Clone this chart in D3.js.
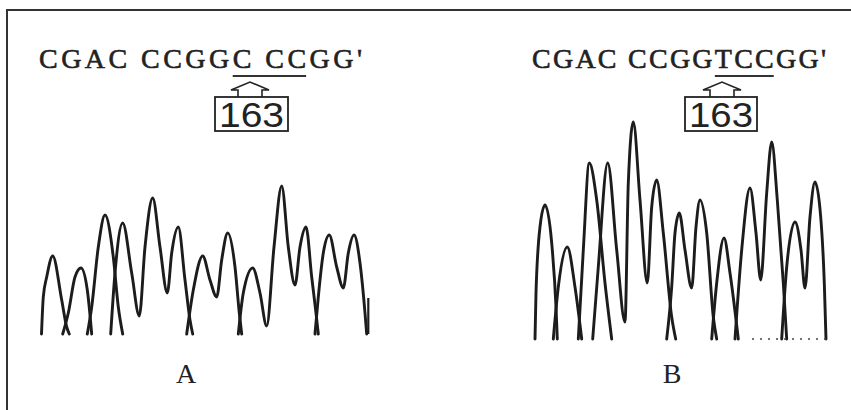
<!DOCTYPE html>
<html>
<head>
<meta charset="utf-8">
<script src="https://cdn.jsdelivr.net/npm/d3@7/dist/d3.min.js"></script>
<style>
  html, body { margin: 0; padding: 0; background: #fff; }
  svg { display: block; }
</style>
</head>
<body>
<svg id="chart" width="851" height="410"></svg>
<script>
// ---------------- DATA ----------------
// Panel labels and sequence readouts
const panelLabels = ["A", "B"];
const sequenceA = "CGAC CCGGC CCGG'";
const sequenceB = "CGAC CCGGTCCGG'";
const markLabel = "163";
const underlineA = [9, 12];   // character indices underlined
const underlineB = [9, 11];

// Chromatogram traces: [scan position, signal intensity]
const tracesA = [
  [[1.5,0],[3.3,37],[6.7,57],[12.7,78],[21.7,34],[26.7,7],[29.3,0]],
  [[22.7,0],[28.3,21],[35,57],[41,66],[47.3,44],[51.7,0]],
  [[47.3,0],[51.7,27],[58.3,87],[65,119],[73.3,77],[78.3,27],[82.7,0]],
  [[70.7,0],[75,61],[82.7,111],[91.7,61],[99.3,18],[105,87],[112.7,136],[120,87],[127.3,41],[131.7,81],[138.3,107],[145,54],[150,14],[152.7,0]],
  [[146.7,0],[153.3,44],[162.7,78],[170,54],[176.7,37],[181.7,74],[187.7,101],[195,67],[199.3,21],[201.7,0]],
  [[198.3,0],[203.3,41],[212.7,66],[220,41],[226.7,8],[234,87],[241.7,148],[248.3,87],[255,49],[260,87],[266,107],[271.7,57],[276,21],[278.3,0]],
  [[275,0],[278.3,37],[283.3,81],[289.3,99],[296.7,67],[303.3,46],[308.3,81],[314,99],[320,71],[325,21],[326.7,0]]
];
const tickA = [[328.3,0],[328.3,36]];

const tracesB = [
  [[5,0],[6,46],[10,112],[15,134],[21.7,96],[26,32],[27.3,0]],
  [[23.3,0],[28.3,52],[37.3,92],[45,52],[51.7,0]],
  [[48.3,0],[53.3,89],[59.3,176],[66.7,139],[75,56],[81.7,0]],
  [[62.7,0],[68.3,72],[77.7,176],[86.7,89],[95,17],[98.3,156],[103.3,217],[110,139],[117.3,56],[121.7,132],[126.7,159],[133.3,106],[141.7,22],[145.7,0]],
  [[136.7,0],[141.7,52],[145,106],[149.3,126],[155,89],[161.7,51],[166,112],[170,139],[176.7,106],[183.3,22],[186.7,0]],
  [[181.7,0],[186.7,56],[194,101],[200,66],[208.3,0]],
  [[205,0],[211.7,89],[220,151],[226,106],[230.7,59],[236.7,146],[241.7,197],[247.3,139],[253.3,56],[256.7,0]],
  [[251.7,0],[256.7,72],[265,117],[271,89],[275,51],[280,122],[285,157],[290.7,122],[294.3,56],[296,0]]
];
const dottedB = [[222,0],[296,0]];

// ---------------- DRAW ----------------
const svg = d3.select("#chart");
const ink = "#1c1c1c";

// frame (top and left edges only, as in the scan)
svg.append("path")
  .attr("d", "M7,410 L7,10 L851,10")
  .attr("fill", "none").attr("stroke", "#333").attr("stroke-width", 2);

const panels = [
  { traces: tracesA, extra: tickA, dotted: null,
    x: d3.scaleLinear().domain([0, 340]).range([40, 380]),
    y: d3.scaleLinear().domain([0, 150]).range([334, 184]),
    seq: sequenceA, seqX0: 39, seqX1: 362, ul: underlineA,
    box: { x0: 215, x1: 288 }, arrowX: 250, label: panelLabels[0], labelX: 186 },
  { traces: tracesB, extra: null, dotted: dottedB,
    x: d3.scaleLinear().domain([0, 300]).range([530, 830]),
    y: d3.scaleLinear().domain([0, 230]).range([339, 109]),
    seq: sequenceB, seqX0: 532, seqX1: 826, ul: underlineB,
    box: { x0: 685, x1: 757 }, arrowX: 722, label: panelLabels[1], labelX: 672 }
];

panels.forEach(p => {
  const g = svg.append("g");
  const line = d3.line().x(d => p.x(d[0])).y(d => p.y(d[1])).curve(d3.curveMonotoneX);
  g.selectAll("path.trace").data(p.traces).join("path")
    .attr("class", "trace")
    .attr("d", line)
    .attr("fill", "none").attr("stroke", ink)
    .attr("stroke-width", 2.9).attr("stroke-linejoin", "round").attr("stroke-linecap", "round");
  if (p.extra) {
    g.append("path").attr("d", d3.line().x(d => p.x(d[0])).y(d => p.y(d[1]))(p.extra))
      .attr("fill", "none").attr("stroke", ink).attr("stroke-width", 2.2);
  }
  if (p.dotted) {
    g.append("path").attr("d", d3.line().x(d => p.x(d[0])).y(d => p.y(d[1]))(p.dotted))
      .attr("fill", "none").attr("stroke", "#444").attr("stroke-width", 1.5)
      .attr("stroke-dasharray", "2,6");
  }

  // sequence text
  const t = svg.append("text")
    .attr("x", p.seqX0).attr("y", 68)
    .attr("font-family", "'Liberation Serif', 'DejaVu Serif', serif")
    .attr("font-size", 28)
    .attr("fill", "#222").attr("stroke", "#222").attr("stroke-width", 0.6)
    .attr("textLength", p.seqX1 - p.seqX0)
    .attr("lengthAdjust", "spacing")
    .text(p.seq);
  const node = t.node();
  let ux0 = node.getExtentOfChar(p.ul[0]).x;
  const e1 = node.getExtentOfChar(p.ul[1]);
  let ux1 = e1.x + e1.width;
  svg.append("line").attr("x1", ux0).attr("x2", ux1).attr("y1", 76).attr("y2", 76)
    .attr("stroke", "#333").attr("stroke-width", 1.8);

  // arrow + box
  const ax = p.arrowX, boxTop = 97, boxBot = 131, shY = 90, apY = 82;
  svg.append("path")
    .attr("d", `M${ax-12},${boxTop} L${ax-12},${shY} L${ax-19},${shY} L${ax},${apY} L${ax+19},${shY} L${ax+12},${shY} L${ax+12},${boxTop}`)
    .attr("fill", "none").attr("stroke", "#222").attr("stroke-width", 1.6).attr("stroke-linejoin", "miter");
  svg.append("rect")
    .attr("x", p.box.x0).attr("y", boxTop).attr("width", p.box.x1 - p.box.x0).attr("height", boxBot - boxTop)
    .attr("fill", "none").attr("stroke", "#222").attr("stroke-width", 1.8);
  svg.append("text")
    .attr("x", (p.box.x0 + p.box.x1) / 2).attr("y", boxBot - 4)
    .attr("text-anchor", "middle")
    .attr("font-family", "'Liberation Sans', Arial, sans-serif")
    .attr("font-size", 35).attr("fill", "#222")
    .attr("textLength", p.box.x1 - p.box.x0 - 8).attr("lengthAdjust", "spacingAndGlyphs")
    .text(markLabel);

  // panel label
  svg.append("text")
    .attr("x", p.labelX).attr("y", 383)
    .attr("text-anchor", "middle")
    .attr("font-family", "'Liberation Serif', 'Times New Roman', serif")
    .attr("font-size", 28).attr("fill", "#222")
    .text(p.label);
});
</script>
</body>
</html>
